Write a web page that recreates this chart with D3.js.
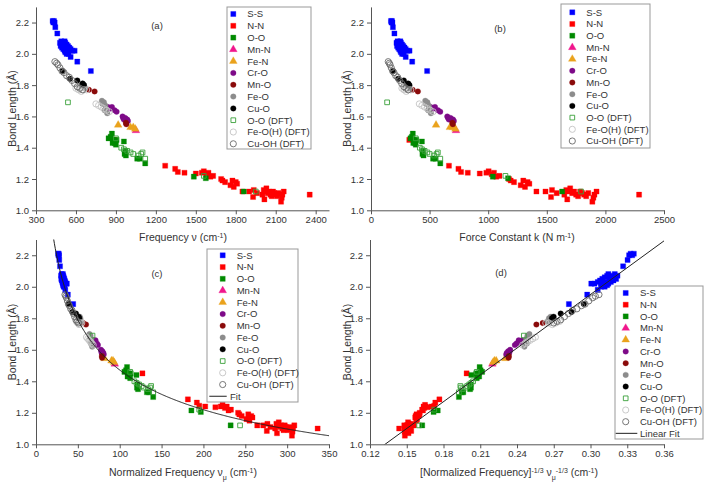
<!DOCTYPE html>
<html>
<head>
<meta charset="utf-8">
<script src="https://cdn.jsdelivr.net/npm/d3@7"></script>
<style>
  html, body { margin: 0; padding: 0; background: #fff; }
  svg { display: block; font-family: "Liberation Sans", Arial, sans-serif; }
</style>
</head>
<body>
<svg id="chart" width="708" height="485"></svg>
<script>
// ---------------- DATA ----------------
// Each point: [frequency ν (cm^-1), bond length (Å)]
const seriesNames = ["S-S","N-N","O-O","Mn-N","Fe-N","Cr-O","Mn-O","Fe-O","Cu-O","O-O (DFT)","Fe-O(H) (DFT)","Cu-OH (DFT)"];
// reduced mass μ (amu) of each bond type
const reducedMass = [16.03, 7.00, 8.00, 11.16, 11.20, 12.24, 12.39, 12.44, 12.78, 8.00, 12.44, 12.78];

const ssPoints = [[425,2.21],[435,2.21],[430,2.20],[440,2.20],[445,2.17],[460,2.13],[480,2.07],[490,2.08],[500,2.07],[505,2.06],
  [515,2.08],[520,2.07],[530,2.06],[540,2.05],[550,2.04],[485,2.05],[495,2.04],[505,2.03],[515,2.02],[525,2.03],[535,2.02],
  [545,2.02],[560,2.03],[575,2.02],[590,2.02],[520,2.01],[530,2.00],[545,2.00],[560,1.98],[610,1.95],[712,1.89],[500,2.05],[510,2.04]];
const nnPoints = [[890,1.45],[1270,1.285],[1345,1.265],[1365,1.245],[1415,1.24],[1500,1.235],[1545,1.24],[1560,1.25],[1580,1.23],
  [1595,1.24],[1610,1.215],[1630,1.22],[1690,1.20],[1700,1.19],[1720,1.18],[1760,1.16],[1775,1.19],[1785,1.15],[1800,1.18],
  [1810,1.17],[1850,1.12],[1900,1.12],[1930,1.085],[1935,1.13],[1960,1.11],[2000,1.10],[2010,1.13],[2015,1.07],[2020,1.12],
  [2030,1.14],[2040,1.11],[2050,1.12],[2060,1.10],[2070,1.09],[2080,1.12],[2090,1.11],[2100,1.10],[2110,1.09],[2120,1.11],
  [2140,1.055],[2145,1.08],[2150,1.10],[2160,1.12],[2355,1.10]];
const ooPoints = [[845,1.46],[860,1.47],[870,1.49],[880,1.45],[885,1.44],[890,1.43],[900,1.42],[905,1.45],[875,1.43],[960,1.44],
  [965,1.36],[975,1.35],[970,1.38],[1060,1.33],[1080,1.33],[1120,1.30],[1485,1.215],[1575,1.205],[1860,1.12]];
const mnnPoints = [[1050,1.51]];
const fenPoints = [[917,1.545],[1010,1.53],[1030,1.53],[1045,1.52]];
const croPoints = [[840,1.66],[860,1.65],[870,1.66],[890,1.64],[905,1.63],[950,1.60],[955,1.59],[960,1.58],[970,1.59],[985,1.58],[990,1.57]];
const mnoPoints = [[697,1.77],[740,1.76],[975,1.56],[978,1.55]];
const feoPoints = [[640,1.80],[650,1.81],[660,1.80],[670,1.78],[795,1.70],[810,1.69],[800,1.68],[820,1.67],[825,1.65],[835,1.62],[815,1.64]];
const cuoPoints = [[500,1.89],[555,1.84],[610,1.83],[650,1.81],[660,1.80]];
const ooDftPoints = [[540,1.69],[900,1.46],[940,1.40],[960,1.39],[985,1.38],[1010,1.37],[1030,1.36],[1070,1.35],[1090,1.36],[1100,1.37],[1120,1.33],[1560,1.22],[1950,1.12]];
const feohDftPoints = [[600,1.78],[620,1.77],[640,1.76],[660,1.77],[680,1.77],[750,1.68],[770,1.67],[790,1.66],[810,1.65],[830,1.64],[850,1.63]];
const cuohDftPoints = [[442,1.95],[455,1.94],[465,1.93],[480,1.91],[495,1.89],[510,1.88],[530,1.86],[550,1.85],[570,1.83],[590,1.81],[610,1.79],[630,1.78],[650,1.77]];

const allPoints = [ssPoints,nnPoints,ooPoints,mnnPoints,fenPoints,croPoints,mnoPoints,feoPoints,cuoPoints,ooDftPoints,feohDftPoints,cuohDftPoints];

// linear fit of bond length vs νμ^(-1/3)
const fitSlope = 5.67;
const fitIntercept = 0.25;

// tick labels
const yTicks = [1.0,1.2,1.4,1.6,1.8,2.0,2.2];
const xTicksA = [300,600,900,1200,1500,1800,2100,2400];
const xTicksB = [0,500,1000,1500,2000,2500];
const xTicksC = [0,50,100,150,200,250,300,350];
const xTicksD = [0.12,0.15,0.18,0.21,0.24,0.27,0.30,0.33,0.36];

// ---------------- STYLE ----------------
const colors = ["#0000ff","#ff0000","#008a00","#f0168c","#eaa21c","#7e0a88","#8a0a0a","#8c8c8c","#000000","#3aa03a","#c4c4c4","#6a6a6a"];
const shapes = ["square","square","square","triangle","triangle","circle","circle","circle","circle","square","circle","circle"];
const openMarker = [false,false,false,false,false,false,false,false,false,true,true,true];

// x transforms (axis definitions)
const K_FACTOR = 4*Math.PI*Math.PI*Math.pow(2.99792458e10,2)*1.66054e-27; // N/m per (amu·cm^-2)
const xAcc = {
  a: (nu, mu) => nu,
  b: (nu, mu) => K_FACTOR*mu*nu*nu,
  c: (nu, mu) => nu/mu,
  d: (nu, mu) => Math.pow(nu/mu, -1/3)
};

const panels = [
  {id:"a", left:36, right:329, top:6.9, bottom:210.3, xDomain:[300,2500], xTicks:xTicksA, fmt:d3.format("d"),
   label:[157,29], yTitleX:12, xTitleY:241, xTitleX:183,
   legend:{x0:227,x1:311,y0:7,y1:149,sym:233.3,text:247.3,row0:14,step:11.8, fit:null}},
  {id:"b", left:371, right:664, top:6.9, bottom:210.3, xDomain:[0,2500], xTicks:xTicksB, fmt:d3.format("d"),
   label:[500,32], yTitleX:347, xTitleY:241, xTitleX:517,
   legend:{x0:561,x1:650,y0:4,y1:148,sym:572.3,text:586.3,row0:12.3,step:11.7, fit:null}},
  {id:"c", left:36, right:329, top:239.5, bottom:444.3, xDomain:[0,350], xTicks:xTicksC, fmt:d3.format("d"),
   label:[157,277], yTitleX:12, xTitleY:475.5, xTitleX:183,
   legend:{x0:207,x1:298,y0:249,y1:402,sym:222.7,text:236.7,row0:255.3,step:11.75, fit:"Fit", fitX:[209.3,226.7], fitText:230}},
  {id:"d", left:370, right:664, top:239.5, bottom:444.3, xDomain:[0.12,0.36], xTicks:xTicksD, fmt:d3.format(".2f"),
   label:[501,276], yTitleX:347, xTitleY:475.5, xTitleX:509,
   legend:{x0:615,x1:703,y0:286,y1:439,sym:625.7,text:640,row0:293,step:11.7, fit:"Linear Fit", fitX:[615.7,637.3], fitText:640}}
];

const svg = d3.select("#chart");
const defs = svg.append("defs");

function symbolPath(shape, open) {
  if (shape === "square") return d3.symbol().type(d3.symbolSquare).size(open ? 22 : 26)();
  if (shape === "triangle") return d3.symbol().type(d3.symbolTriangle).size(26)();
  return d3.symbol().type(d3.symbolCircle).size(open ? 30 : 24)();
}

function drawMarker(g, i, cx, cy) {
  const open = openMarker[i];
  g.append("path")
    .attr("d", symbolPath(shapes[i], open))
    .attr("transform", `translate(${cx},${cy})`)
    .attr("fill", open ? "#fff" : colors[i])
    .attr("fill-opacity", open ? 0 : 1)
    .attr("stroke", colors[i])
    .attr("stroke-width", open ? 0.9 : 0.3);
}

const axisColor = "#555";
const textColor = "#333";

panels.forEach(p => {
  const g = svg.append("g");
  const x = d3.scaleLinear().domain(p.xDomain).range([p.left, p.right]);
  const y = d3.scaleLinear().domain([1.0, 2.3]).range([p.bottom, p.top]);

  defs.append("clipPath").attr("id", "clip-" + p.id)
    .append("rect").attr("x", p.left).attr("y", p.top).attr("width", p.right - p.left).attr("height", p.bottom - p.top);

  // axes
  const xAxis = g.append("g").attr("transform", `translate(0,${p.bottom})`)
    .call(d3.axisBottom(x).tickValues(p.xTicks).tickFormat(p.fmt).tickSizeInner(4).tickSizeOuter(0).tickPadding(2));
  const yAxis = g.append("g").attr("transform", `translate(${p.left},0)`)
    .call(d3.axisLeft(y).tickValues(yTicks).tickFormat(d3.format(".1f")).tickSizeInner(4).tickSizeOuter(0).tickPadding(3));
  [xAxis, yAxis].forEach(ax => {
    ax.select(".domain").attr("stroke", axisColor).attr("stroke-width", 1);
    ax.selectAll(".tick line").attr("stroke", axisColor);
    ax.selectAll(".tick text").attr("fill", textColor).attr("font-size", 9.5)
      .attr("font-family", "Liberation Sans, Arial, sans-serif");
  });

  // points
  const pg = g.append("g").attr("clip-path", `url(#clip-${p.id})`);
  allPoints.forEach((pts, i) => {
    pts.forEach(([nu, L]) => {
      drawMarker(pg, i, x(xAcc[p.id](nu, reducedMass[i])), y(L));
    });
  });

  // fits
  if (p.id === "c") {
    const xs = d3.range(15, 351, 1);
    const line = d3.line().x(v => x(v)).y(v => y(fitSlope*Math.pow(v, -1/3) + fitIntercept));
    pg.append("path").attr("d", line(xs)).attr("fill", "none").attr("stroke", "#222").attr("stroke-width", 1);
  }
  if (p.id === "d") {
    const ends = [0.12, 0.36];
    const line = d3.line().x(v => x(v)).y(v => y(fitSlope*v + fitIntercept));
    pg.append("path").attr("d", line(ends)).attr("fill", "none").attr("stroke", "#222").attr("stroke-width", 1);
  }

  // panel label
  g.append("text").attr("x", p.label[0]).attr("y", p.label[1]).attr("text-anchor", "middle")
    .attr("font-size", 9.5).attr("fill", textColor).text(`(${p.id})`);

  // y title
  const yt = g.append("text")
    .attr("transform", `translate(${p.yTitleX + 3.5},${(p.top + p.bottom)/2}) rotate(-90)`)
    .attr("text-anchor", "middle").attr("font-size", 10.5).attr("fill", textColor)
    .text("Bond Length (Å)");

  // x title
  const xt = g.append("text").attr("x", p.xTitleX).attr("y", p.xTitleY).attr("text-anchor", "middle")
    .attr("font-size", 10.5).attr("fill", textColor);
  const sup = (t, s) => t.append("tspan").attr("baseline-shift", "super").attr("font-size", 7).text(s);
  const sub = (t, s) => t.append("tspan").attr("baseline-shift", "sub").attr("font-size", 7).text(s);
  if (p.id === "a") {
    xt.append("tspan").text("Frequency ν (cm");
    sup(xt, "-1"); xt.append("tspan").text(")");
  } else if (p.id === "b") {
    xt.append("tspan").text("Force Constant k (N m");
    sup(xt, "-1"); xt.append("tspan").text(")");
  } else if (p.id === "c") {
    xt.append("tspan").text("Normalized Frequency ν");
    sub(xt, "μ"); xt.append("tspan").text(" (cm");
    sup(xt, "-1"); xt.append("tspan").text(")");
  } else {
    xt.append("tspan").text("[Normalized Frequency]");
    sup(xt, "-1/3"); xt.append("tspan").text(" ν");
    sub(xt, "μ"); sup(xt, "-1/3");
    xt.append("tspan").text(" (cm"); sup(xt, "-1"); xt.append("tspan").text(")");
  }

  // legend
  const lg = g.append("g");
  const L = p.legend;
  lg.append("rect").attr("x", L.x0).attr("y", L.y0).attr("width", L.x1 - L.x0).attr("height", L.y1 - L.y0)
    .attr("fill", "#fff").attr("stroke", "#999").attr("stroke-width", 1);
  seriesNames.forEach((name, i) => {
    const cy = L.row0 + i*L.step;
    drawMarker(lg, i, L.sym, cy);
    lg.append("text").attr("x", L.text).attr("y", cy).attr("dy", "0.35em")
      .attr("font-size", 9.5).attr("fill", textColor).text(name);
  });
  if (L.fit) {
    const cy = L.row0 + 12*L.step;
    lg.append("line").attr("x1", L.fitX[0]).attr("x2", L.fitX[1]).attr("y1", cy).attr("y2", cy)
      .attr("stroke", "#444").attr("stroke-width", 1.2);
    lg.append("text").attr("x", L.fitText).attr("y", cy).attr("dy", "0.35em")
      .attr("font-size", 9.5).attr("fill", textColor).text(L.fit);
  }
});
</script>
</body>
</html>
